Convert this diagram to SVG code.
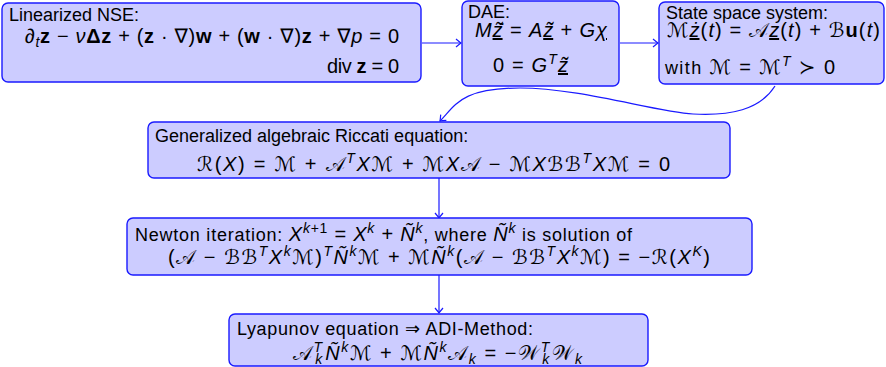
<svg xmlns="http://www.w3.org/2000/svg" width="886" height="367" viewBox="0 0 886 367">
<style>
.box{fill:#ccccff;stroke:#1a1aff;stroke-width:1.4}
.con{fill:none;stroke:#1a1aff;stroke-width:1.2}
text{font-family:"Liberation Sans",Arial,"DejaVu Sans",sans-serif;font-size:18px;fill:#000}
.m{font-size:20px}
.i{font-style:italic}
.b{font-weight:bold}
.sm{font-size:14px}
.u{text-decoration:underline}
</style>
<defs>
<marker id="ah" markerWidth="7" markerHeight="10" viewBox="-6 -5 7 10" refX="0" refY="0" orient="auto" markerUnits="userSpaceOnUse">
<path d="M-5,-4 Q-1.5,-1 0,0 Q-1.5,1 -5,4" fill="none" stroke="#1a1aff" stroke-width="1.2"/>
</marker>
</defs>
<g id="connectors">
<path class="con" d="M422,43 H461" marker-end="url(#ah)"/>
<path class="con" d="M620,43 H658" marker-end="url(#ah)"/>
<path class="con" d="M775,86 C760,110 730,116 693,114 S580,88 520,88 S455,106 440,121" marker-end="url(#ah)"/>
<path class="con" d="M439,178 V218" marker-end="url(#ah)"/>
<path class="con" d="M439,275 V313" marker-end="url(#ah)"/>
</g>
<g id="nse">
<rect class="box" x="2" y="3" width="419" height="79" rx="6"/>
<text x="9" y="21">Linearized NSE:</text>
<text class="m" x="25" y="43" textLength="374" lengthAdjust="spacing">∂<tspan class="i sm" dy="4">t</tspan><tspan class="b" dy="-4">z</tspan> − <tspan class="i">ν</tspan><tspan class="b">Δz</tspan> + (<tspan class="b">z</tspan> · ∇)<tspan class="b">w</tspan> + (<tspan class="b">w</tspan> · ∇)<tspan class="b">z</tspan> + ∇<tspan class="i">p</tspan> = 0</text>
<text class="m" x="327" y="73" textLength="72" lengthAdjust="spacing">div <tspan class="b">z</tspan> = 0</text>
</g>
<g id="dae">
<rect class="box" x="462" y="1" width="157" height="85" rx="6"/>
<text x="468" y="18">DAE:</text>
<text class="m" x="475" y="37" textLength="132" lengthAdjust="spacing"><tspan class="i">M</tspan><tspan class="i u">z̃̇</tspan> = <tspan class="i">A</tspan><tspan class="i u">z̃</tspan> + <tspan class="i">G</tspan><tspan class="i u">χ</tspan></text>
<text class="m" x="493" y="72" textLength="75" lengthAdjust="spacing">0 = <tspan class="i">G</tspan><tspan class="i sm" dy="-8">T</tspan><tspan class="i u" dy="8">z̃</tspan></text>
</g>
<g id="statespace">
<rect class="box" x="659" y="2" width="225" height="82" rx="6"/>
<text x="666" y="19">State space system:</text>
<text class="m" x="667" y="37" textLength="213" lengthAdjust="spacing">ℳ<tspan class="i u">ż</tspan>(<tspan class="i">t</tspan>) = 𝒜<tspan class="i u">z</tspan>(<tspan class="i">t</tspan>) + ℬ<tspan class="b">u</tspan>(<tspan class="i">t</tspan>)</text>
<text class="m" x="665" y="74" textLength="170" lengthAdjust="spacing"><tspan font-size="18">with</tspan> ℳ = ℳ<tspan class="i sm" dy="-8">T</tspan><tspan dy="8"> ≻ 0</tspan></text>
</g>
<g id="riccati">
<rect class="box" x="148" y="122" width="582" height="56" rx="6"/>
<text x="155" y="142">Generalized algebraic Riccati equation:</text>
<text class="m" x="197" y="171" textLength="473" lengthAdjust="spacing">ℛ(<tspan class="i">X</tspan>) = ℳ + 𝒜<tspan class="i sm" dy="-8">T</tspan><tspan class="i" dy="8">X</tspan>ℳ + ℳ<tspan class="i">X</tspan>𝒜 − ℳ<tspan class="i">X</tspan>ℬℬ<tspan class="i sm" dy="-8">T</tspan><tspan class="i" dy="8">X</tspan>ℳ = 0</text>
</g>
<g id="newton">
<rect class="box" x="127" y="218" width="625" height="57" rx="6"/>
<text x="135" y="241" textLength="497" lengthAdjust="spacing">Newton iteration: <tspan class="i m">X</tspan><tspan class="i sm" dy="-8">k</tspan><tspan class="sm">+1</tspan><tspan class="m" dy="8"> = </tspan><tspan class="i m">X</tspan><tspan class="i sm" dy="-8">k</tspan><tspan class="m" dy="8"> + </tspan><tspan class="i m">Ñ</tspan><tspan class="i sm" dy="-8">k</tspan><tspan dy="8">, where </tspan><tspan class="i m">Ñ</tspan><tspan class="i sm" dy="-8">k</tspan><tspan dy="8"> is solution of</tspan></text>
<text class="m" x="168" y="264" textLength="542" lengthAdjust="spacing">(𝒜 − ℬℬ<tspan class="i sm" dy="-8">T</tspan><tspan class="i" dy="8">X</tspan><tspan class="i sm" dy="-8">k</tspan><tspan dy="8">ℳ)</tspan><tspan class="i sm" dy="-8">T</tspan><tspan class="i" dy="8">Ñ</tspan><tspan class="i sm" dy="-8">k</tspan><tspan dy="8">ℳ + ℳ</tspan><tspan class="i">Ñ</tspan><tspan class="i sm" dy="-8">k</tspan><tspan dy="8">(𝒜 − ℬℬ</tspan><tspan class="i sm" dy="-8">T</tspan><tspan class="i" dy="8">X</tspan><tspan class="i sm" dy="-8">k</tspan><tspan dy="8">ℳ) = −ℛ(</tspan><tspan class="i">X</tspan><tspan class="i sm" dy="-8">K</tspan><tspan dy="8">)</tspan></text>
</g>
<g id="lyapunov">
<rect class="box" x="229" y="314" width="419" height="52" rx="6"/>
<text x="237" y="335" textLength="296" lengthAdjust="spacing">Lyapunov equation ⇒ ADI-Method:</text>
<text class="m" x="293" y="360" textLength="289" lengthAdjust="spacing">𝒜<tspan class="i sm" dy="-8">T</tspan><tspan class="i sm" dx="-8.6" dy="12">k</tspan><tspan class="i" dx="1.6" dy="-4">Ñ</tspan><tspan class="i sm" dy="-8">k</tspan><tspan dy="8">ℳ + ℳ</tspan><tspan class="i">Ñ</tspan><tspan class="i sm" dy="-8">k</tspan><tspan dy="8">𝒜</tspan><tspan class="i sm" dy="4">k</tspan><tspan dy="-4"> = −𝒲</tspan><tspan class="i sm" dy="-8">T</tspan><tspan class="i sm" dx="-8.6" dy="12">k</tspan><tspan dx="1.6" dy="-4">𝒲</tspan><tspan class="i sm" dy="4">k</tspan></text>
</g>
</svg>
